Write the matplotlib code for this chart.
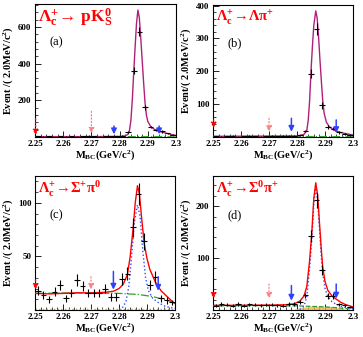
import numpy as np
import matplotlib
matplotlib.use("Agg")
import matplotlib.pyplot as plt
from matplotlib.ticker import MultipleLocator, AutoMinorLocator

plt.rcParams['font.family'] = ['Liberation Serif', 'DejaVu Serif']
plt.rcParams['mathtext.fontset'] = 'custom'
plt.rcParams['mathtext.rm'] = 'Liberation Serif:bold'
plt.rcParams['mathtext.it'] = 'Liberation Serif:italic:bold'
plt.rcParams['mathtext.bf'] = 'Liberation Serif:bold'
plt.rcParams['mathtext.default'] = 'rm'

#-------------Data-------------
mbc_bins = [2.251, 2.253, 2.255, 2.257, 2.259, 2.261, 2.263, 2.265, 2.267, 2.269,
            2.271, 2.273, 2.275, 2.277, 2.279, 2.281, 2.283, 2.285, 2.287, 2.289,
            2.291, 2.293, 2.295, 2.297, 2.299]

a_counts = [4, 2, 3, 1, 3, 2, 4, 2, 3, 6, 3, 2, 3, 4, 5, 6, 28, 360, 575, 162, 55, 40, 30, 20, 12]
b_counts = [2, 1, 2, 3, 1, 2, 3, 2, 1, 2, 3, 2, 4, 3, 4, 5, 18, 193, 330, 96, 30, 25, 14, 10, 7]
c_counts = [18, 14, 10, 17, 23, 11, 16, 28, 22, 16, 16, 16, 20, 12, 12, 29, 34, 77, 108, 64, 23, 31, 11, 9, 7]
d_counts = [8, 12, 10, 8, 12, 8, 11, 10, 9, 10, 10, 9, 8, 12, 12, 16, 28, 143, 211, 77, 27, 27, 11, 9, 6]

# fitted total curves
a_fit_x = [2.250, 2.270, 2.280, 2.282, 2.283, 2.2835, 2.284, 2.2845, 2.285, 2.2855, 2.286, 2.2865,
           2.287, 2.2875, 2.288, 2.2885, 2.289, 2.2895, 2.290, 2.291, 2.292, 2.293, 2.294, 2.295,
           2.296, 2.297, 2.298, 2.299, 2.300]
a_fit_y = [2, 2, 3, 6, 15, 35, 90, 200, 350, 490, 620, 692,
           650, 540, 420, 300, 190, 120, 85, 58, 45, 37, 31, 27,
           23, 19, 15, 11, 8]
a_bkg_x = [2.250, 2.270, 2.285, 2.295, 2.300]
a_bkg_y = [2, 2, 2, 1.5, 0.5]

b_fit_x = [2.250, 2.280, 2.2825, 2.2835, 2.284, 2.2845, 2.285, 2.2855, 2.286, 2.2867, 2.2872,
           2.2877, 2.2882, 2.2887, 2.2892, 2.2897, 2.2905, 2.2915, 2.2925, 2.2935, 2.295, 2.297, 2.300]
b_fit_y = [2, 3, 8, 20, 50, 110, 200, 275, 340, 384, 362,
           305, 235, 170, 110, 72, 45, 32, 25, 20, 15, 11, 6]
b_bkg_x = [2.250, 2.270, 2.285, 2.295, 2.300]
b_bkg_y = [1.5, 1.5, 1.5, 1, 0.5]

c_fit_x = [2.250, 2.255, 2.260, 2.265, 2.270, 2.275, 2.278, 2.280, 2.2815, 2.283, 2.284, 2.285,
           2.2858, 2.2866, 2.2873, 2.288, 2.289, 2.290, 2.291, 2.293, 2.295, 2.297, 2.299, 2.300]
c_fit_y = [15.5, 15, 15.5, 16, 16, 16.5, 17.5, 20, 24, 33, 50, 75,
           100, 116, 108, 88, 62, 48, 38, 26, 18, 13, 8, 6]
c_sig_x = [2.280, 2.2815, 2.2825, 2.2835, 2.2845, 2.2855, 2.2866, 2.2875, 2.2885, 2.2895,
           2.2905, 2.292, 2.294, 2.296, 2.298, 2.300]
c_sig_y = [0.5, 3, 8, 22, 50, 82, 98, 88, 55, 30,
           18, 11, 7, 4, 2.5, 1.5]
c_bkg_x = [2.250, 2.265, 2.280, 2.287, 2.292, 2.296, 2.299, 2.300]
c_bkg_y = [15.5, 16, 15.5, 14.5, 12.5, 10, 7.5, 6]
c_peak_x = [2.250, 2.300]
c_peak_y = [1, 1]

d_fit_x = [2.250, 2.260, 2.270, 2.276, 2.279, 2.281, 2.2825, 2.2835, 2.2845, 2.2853, 2.286, 2.2867,
           2.2874, 2.288, 2.2887, 2.2892, 2.290, 2.291, 2.2925, 2.294, 2.2956, 2.2975, 2.2994, 2.300]
d_fit_y = [9, 9, 9.5, 10, 12, 17, 27, 45, 95, 150, 215, 245,
           220, 170, 115, 82, 55, 38, 27, 21, 15, 10, 7, 6]
d_sig_x = [2.281, 2.2825, 2.2835, 2.2845, 2.2853, 2.286, 2.2867, 2.2874, 2.288, 2.2887, 2.2892,
           2.290, 2.291, 2.2925, 2.294, 2.296, 2.298, 2.300]
d_sig_y = [1, 8, 25, 80, 138, 205, 235, 210, 158, 102, 70,
           42, 26, 16, 11, 7, 4, 3]
d_bkg_x = [2.250, 2.270, 2.280, 2.290, 2.295, 2.300]
d_bkg_y = [8, 8.5, 8, 6, 4, 1.5]
d_peak_x = [2.278, 2.280, 2.283, 2.286, 2.289, 2.292, 2.295, 2.297, 2.298]
d_peak_y = [0, 3, 6, 8, 7, 6, 4, 2, 0]

titles = [r'$\Lambda_{c}^{+}\!\rightarrow\,\mathrm{pK_{S}^{0}}$',
          r'$\Lambda_{c}^{+}\!\rightarrow\!\Lambda\pi^{+}$',
          r'$\Lambda_{c}^{+}\!\rightarrow\!\Sigma^{+}\pi^{0}$',
          r'$\Lambda_{c}^{+}\!\rightarrow\!\Sigma^{0}\pi^{+}$']
panel_tags = ['(a)', '(b)', '(c)', '(d)']
ylabels = [r'Event /( 2.0MeV/c$^{2}$)', r'Event/( 2.0MeV/c$^{2}$)',
           r'Event /( 2.0MeV/c$^{2}$)', r'Event /( 2.0MeV/c$^{2}$)']
ymax = [725, 402, 125, 258]
ymajor = [200, 100, 50, 100]
# arrow tops / bottoms in data units: (red at 2.25, pink at 2.27, blue at 2.278 and 2.294)
arrow_spans = [[(100, 10), (140, 20), (60, 15), (60, 15)],
               [(52, 27), (57, 16), (57, 16), (52, 12)],
               [(28, 19), (31, 19), (36, 19), (31, 18)],
               [(34, 22), (50, 22), (47, 18), (50, 22)]]


#-------------Methods-------------
def draw_panel(ax, idx, counts, fit_x, fit_y, fit_color, sig=None, bkg=None, bkg_style='-.', peak=None, peak_fill=False):
    counts = np.array(counts, dtype=float)
    ax.errorbar(mbc_bins, counts, yerr=np.sqrt(counts), xerr=0.001, fmt='none',
                ecolor='black', elinewidth=0.8, capsize=0, zorder=5)
    if bkg is not None:
        ax.plot(bkg[0], bkg[1], color='#2ca02c', linestyle=bkg_style, linewidth=0.9, zorder=3)
    if peak is not None:
        if peak_fill:
            ax.fill_between(peak[0], 0, peak[1], color='#f5b041', alpha=0.8, linewidth=0, zorder=2)
        else:
            ax.plot(peak[0], peak[1], color='#e69f00', linestyle=':', linewidth=1.0, zorder=2)
    if sig is not None:
        ax.plot(sig[0], sig[1], color='#3050ff', linestyle=':', linewidth=1.0, zorder=3)
    ax.plot(fit_x, fit_y, color=fit_color, linewidth=1.0, zorder=4)

    spans = arrow_spans[idx]
    arrow_x = [2.2502, 2.270, 2.278, 2.294]
    styles = [('red', ':', 0.9), ('#ff8080', ':', 0.9), ('#3040ff', '-', 1.1), ('#3040ff', '-', 1.1)]
    for xa, (top, bot), (col, ls, lw) in zip(arrow_x, spans, styles):
        ax.annotate('', xy=(xa, bot), xytext=(xa, top),
                    arrowprops=dict(arrowstyle='-|>', color=col, linestyle=ls, lw=lw,
                                    mutation_scale=8, shrinkA=0, shrinkB=0), zorder=6)

    ax.set_xlim(2.25, 2.3)
    ax.set_ylim(0, ymax[idx])
    ax.xaxis.set_minor_locator(AutoMinorLocator(5))
    ax.yaxis.set_minor_locator(AutoMinorLocator(5))
    ax.set_xticks([2.25, 2.26, 2.27, 2.28, 2.29, 2.3])
    ax.set_xticklabels(['2.25', '2.26', '2.27', '2.28', '2.29', '2.3'])
    yt = [t for t in np.arange(ymajor[idx], ymax[idx], ymajor[idx])]
    ax.set_yticks(yt)
    ax.set_yticklabels([str(int(t)) for t in yt])
    ax.tick_params(which='both', direction='in', top=False, right=False, labelsize=6.5)
    ax.tick_params(axis='x', pad=2)
    ax.tick_params(axis='y', pad=2.5)
    ax.tick_params(which='major', length=4, width=0.6)
    ax.tick_params(which='minor', length=2, width=0.5)
    for lab in ax.get_xticklabels() + ax.get_yticklabels():
        lab.set_fontweight('bold')
    for sp in ax.spines.values():
        sp.set_linewidth(0.8)

    ax.set_xlabel(r'M$_{\mathrm{BC}}$(GeV/c$^{2}$)', fontsize=7.5, fontweight='bold', labelpad=0.5)
    ax.set_ylabel(ylabels[idx], fontsize=7.5, fontweight='bold', labelpad=2)
    tsize = 12.5 if idx == 0 else 10.5
    ax.text(0.02, 0.975, titles[idx], transform=ax.transAxes, color='red', fontsize=tsize,
            va='top', ha='left', fontweight='bold')
    ax.text(0.1, 0.71, panel_tags[idx], transform=ax.transAxes, fontsize=9, va='center', ha='left')


fig = plt.figure(figsize=(3.63, 3.37), dpi=100)
ax_a = fig.add_axes([35/363, 1-137/337, 141/363, 133/337])
ax_b = fig.add_axes([213/363, 1-137/337, 140/363, 132/337])
ax_c = fig.add_axes([35/363, 1-310/337, 140/363, 134/337])
ax_d = fig.add_axes([213/363, 1-310/337, 140/363, 134/337])

draw_panel(ax_a, 0, a_counts, a_fit_x, a_fit_y, '#b0207a', bkg=(a_bkg_x, a_bkg_y))
draw_panel(ax_b, 1, b_counts, b_fit_x, b_fit_y, '#b0207a', bkg=(b_bkg_x, b_bkg_y))
draw_panel(ax_c, 2, c_counts, c_fit_x, c_fit_y, 'red', sig=(c_sig_x, c_sig_y),
           bkg=(c_bkg_x, c_bkg_y), bkg_style='-.', peak=(c_peak_x, c_peak_y))
draw_panel(ax_d, 3, d_counts, d_fit_x, d_fit_y, 'red', sig=(d_sig_x, d_sig_y),
           bkg=(d_bkg_x, d_bkg_y), bkg_style='--', peak=(d_peak_x, d_peak_y), peak_fill=True)

fig.savefig('out.png', dpi=100)
